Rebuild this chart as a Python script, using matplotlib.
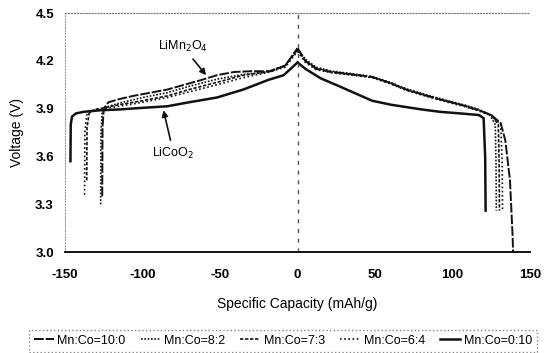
import matplotlib.pyplot as plt

plt.rcParams['font.family'] = ['Liberation Sans', 'DejaVu Sans']
plt.rcParams['axes.unicode_minus'] = False

labels = ['Mn:Co=10:0', 'Mn:Co=8:2', 'Mn:Co=7:3', 'Mn:Co=6:4', 'Mn:Co=0:10']

# charge branch (plotted on negative capacity)
chg_cap = {
    'Mn:Co=10:0': [-126, -125.8, -125, -122, -115, -106, -95, -84, -73, -62, -52, -41, -30, -17, -8, 0],
    'Mn:Co=8:2': [-127, -126.8, -126, -123, -115, -100, -84, -70, -52, -35, -20, -8, 0],
    'Mn:Co=7:3': [-136, -135.8, -134.5, -131, -125, -115, -100, -84, -70, -52, -35, -20, -8, 0],
    'Mn:Co=6:4': [-137.4, -137.2, -136, -133, -127, -115, -100, -84, -70, -52, -35, -20, -8, 0],
    'Mn:Co=0:10': [-146.5, -146.3, -145.5, -143, -138, -127, -115, -100, -84, -70, -52, -35, -19, -9, 0],
}
chg_v = {
    'Mn:Co=10:0': [3.35, 3.78, 3.90, 3.94, 3.96, 3.98, 4.00, 4.02, 4.05, 4.08, 4.11, 4.13, 4.135, 4.135, 4.17, 4.28],
    'Mn:Co=8:2': [3.30, 3.75, 3.88, 3.91, 3.935, 3.97, 4.00, 4.04, 4.085, 4.115, 4.13, 4.17, 4.275],
    'Mn:Co=7:3': [3.45, 3.78, 3.87, 3.895, 3.905, 3.925, 3.95, 3.98, 4.02, 4.065, 4.11, 4.13, 4.17, 4.27],
    'Mn:Co=6:4': [3.36, 3.75, 3.86, 3.885, 3.895, 3.915, 3.94, 3.97, 4.005, 4.05, 4.095, 4.125, 4.16, 4.26],
    'Mn:Co=0:10': [3.57, 3.80, 3.85, 3.87, 3.88, 3.89, 3.895, 3.905, 3.915, 3.94, 3.97, 4.02, 4.08, 4.11, 4.19],
}

# discharge branch
dis_cap = {
    'Mn:Co=10:0': [0, 5, 12, 22, 35, 48, 60, 70, 82, 95, 107, 117, 125, 131, 134, 137, 138.7, 139],
    'Mn:Co=8:2': [0, 5, 12, 22, 35, 48, 60, 70, 82, 95, 107, 117, 124, 127.5, 128, 128.2],
    'Mn:Co=7:3': [0, 5, 12, 22, 35, 48, 60, 70, 82, 95, 107, 117, 125, 129.5, 130, 130.2],
    'Mn:Co=6:4': [0, 5, 12, 22, 35, 48, 60, 70, 82, 95, 107, 117, 125, 131, 132, 132.2],
    'Mn:Co=0:10': [0, 5, 15, 27, 34, 48, 60, 70, 80, 92, 105, 117, 120, 121, 121.3],
}
dis_v = {
    'Mn:Co=10:0': [4.28, 4.20, 4.15, 4.13, 4.115, 4.10, 4.06, 4.02, 3.985, 3.95, 3.92, 3.89, 3.86, 3.81, 3.70, 3.45, 3.10, 3.00],
    'Mn:Co=8:2': [4.275, 4.21, 4.16, 4.135, 4.12, 4.10, 4.065, 4.025, 3.99, 3.955, 3.925, 3.895, 3.86, 3.80, 3.55, 3.26],
    'Mn:Co=7:3': [4.27, 4.20, 4.155, 4.13, 4.115, 4.098, 4.06, 4.02, 3.985, 3.95, 3.92, 3.89, 3.86, 3.80, 3.55, 3.26],
    'Mn:Co=6:4': [4.26, 4.19, 4.145, 4.125, 4.11, 4.095, 4.055, 4.015, 3.98, 3.945, 3.915, 3.885, 3.855, 3.80, 3.55, 3.26],
    'Mn:Co=0:10': [4.19, 4.15, 4.09, 4.04, 4.01, 3.95, 3.925, 3.91, 3.895, 3.88, 3.87, 3.86, 3.84, 3.60, 3.26],
}

styles = {
    'Mn:Co=10:0': dict(ls=(0, (5, 1)), lw=1.4),
    'Mn:Co=8:2': dict(ls=(0, (1, 1)), lw=1.2),
    'Mn:Co=7:3': dict(ls=(0, (2, 1)), lw=1.2),
    'Mn:Co=6:4': dict(ls=(0, (1, 1.5)), lw=1.2),
    'Mn:Co=0:10': dict(ls='-', lw=1.8),
}

fig = plt.figure(figsize=(5.44, 3.53), dpi=100)
ax = fig.add_axes([0.1195, 0.286, 0.855, 0.677])

for name in labels:
    st = styles[name]
    ax.plot(chg_cap[name], chg_v[name], color='#111111', label=name, **st)
    ax.plot(dis_cap[name], dis_v[name], color='#111111', **st)

ax.axvline(0, color='#555555', ls=(0, (3, 4)), lw=1.0)

ax.set_xlim(-150, 150)
ax.set_ylim(3.0, 4.5)
ax.set_xticks([-150, -100, -50, 0, 50, 100, 150])
ax.set_yticks([3.0, 3.3, 3.6, 3.9, 4.2, 4.5])
ax.set_yticklabels(['3.0', '3.3', '3.6', '3.9', '4.2', '4.5'])
ax.tick_params(length=0, labelsize=9.5, pad=8)
for t in ax.get_xticklabels() + ax.get_yticklabels():
    t.set_fontweight('bold')
ax.tick_params(axis='x', pad=12)

ax.spines['right'].set_visible(False)
ax.spines['top'].set_linestyle(':')
ax.spines['top'].set_color('#777777')
ax.spines['left'].set_linestyle(':')
ax.spines['left'].set_color('#999999')
ax.spines['bottom'].set_linewidth(1.3)

ax.set_xlabel('Specific Capacity (mAh/g)', fontsize=10, labelpad=12)
ax.set_ylabel('Voltage (V)', fontsize=10, labelpad=8)

ax.annotate('LiMn$_2$O$_4$', xy=(-59, 4.11), xytext=(-74, 4.29), fontsize=9,
            ha='center', va='center',
            arrowprops=dict(arrowstyle='-|>', color='#111111', lw=1.2, shrinkB=0))
ax.annotate('LiCoO$_2$', xy=(-86.5, 3.89), xytext=(-80, 3.62), fontsize=9,
            ha='center', va='center',
            arrowprops=dict(arrowstyle='-|>', color='#111111', lw=1.2, shrinkB=0))

leg = fig.legend(loc='center', bbox_to_anchor=(0.52, 0.035), ncol=5, fontsize=9,
                 handlelength=1.6, handletextpad=0.3, columnspacing=1.2,
                 frameon=True, fancybox=False, borderpad=0.4)
leg.get_frame().set_linestyle(':')
leg.get_frame().set_edgecolor('#666666')

fig.savefig('out.png', dpi=100)
